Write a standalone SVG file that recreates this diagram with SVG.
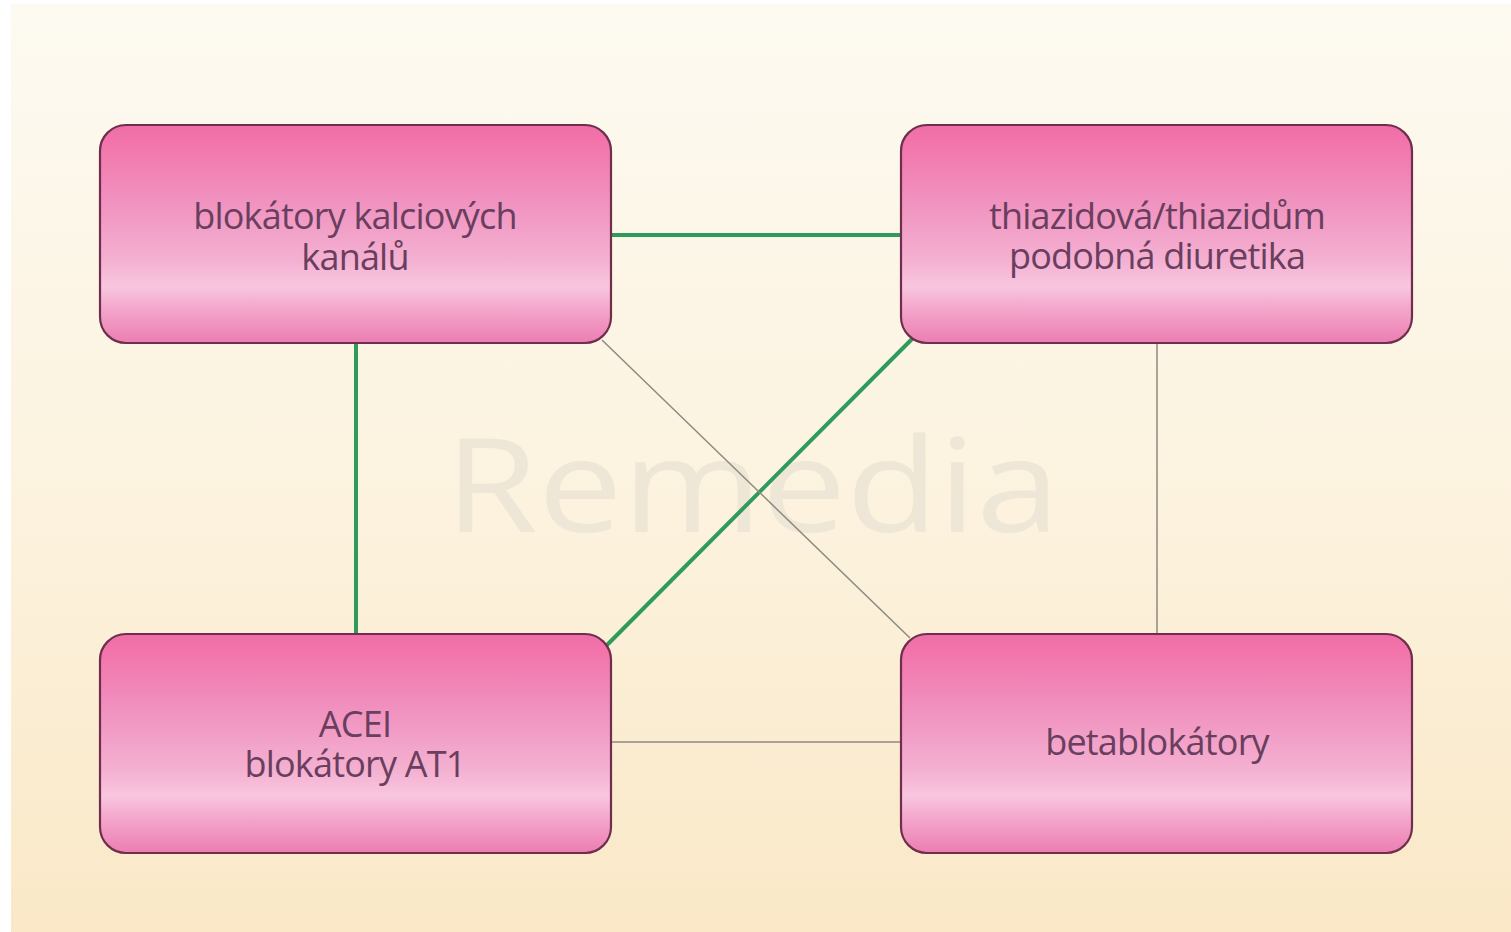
<svg xmlns="http://www.w3.org/2000/svg" width="1511" height="932" viewBox="0 0 1511 932">
  <defs>
    <linearGradient id="bg" x1="0" y1="0" x2="0" y2="1">
      <stop offset="0" stop-color="#FDFAF1"/>
      <stop offset="0.5" stop-color="#FCF3E0"/>
      <stop offset="1" stop-color="#FAE8C7"/>
    </linearGradient>
    <linearGradient id="nodeFill" x1="0" y1="0" x2="0" y2="1">
      <stop offset="0" stop-color="#EE6FA7"/>
      <stop offset="0.08" stop-color="#F274AB"/>
      <stop offset="0.35" stop-color="#F092BF"/>
      <stop offset="0.62" stop-color="#F4B0D1"/>
      <stop offset="0.74" stop-color="#F8C6DF"/>
      <stop offset="0.84" stop-color="#F3A7CB"/>
      <stop offset="1" stop-color="#EC7DB2"/>
    </linearGradient>
  </defs>
  <style>
    .node rect { fill: url(#nodeFill); stroke: #6E2E4C; stroke-width: 2.2; }
    .node text { font-family: "Open Sans", "Noto Sans", sans-serif; font-size: 36px; fill: #6A3E5E; text-anchor: middle; letter-spacing: -0.8px; }
    .green { stroke: #2E9A5C; stroke-width: 4; fill: none; }
    .gray { stroke: #8C8A80; stroke-width: 1.5; fill: none; }
    .wm { font-family: "Open Sans", "Noto Sans", sans-serif; font-size: 130px; fill: #EAE3D4; opacity: 0.75; }
  </style>
  <rect x="0" y="0" width="1511" height="932" fill="#FFFFFF"/>
  <rect x="11" y="4" width="1500" height="928" fill="url(#bg)"/>
  <text class="wm" x="445" y="532" textLength="615" lengthAdjust="spacingAndGlyphs">Remedia</text>
  <g id="connectors">
    <line class="green" x1="611" y1="235" x2="901" y2="235"/>
    <line class="green" x1="356" y1="343" x2="356" y2="633"/>
    <line class="green" x1="913" y1="338" x2="606" y2="646"/>
    <line class="gray" x1="602" y1="340" x2="910" y2="638"/>
    <line class="gray" x1="1157" y1="343" x2="1157" y2="633"/>
    <line class="gray" x1="611" y1="742" x2="901" y2="742"/>
  </g>
  <g id="node-bkk" class="node">
    <rect x="100" y="125" width="511" height="218" rx="26" ry="26"/>
    <text x="355" y="229">blokátory kalciových<tspan x="355" dy="41">kanálů</tspan></text>
  </g>
  <g id="node-diuretika" class="node">
    <rect x="901" y="125" width="511" height="218" rx="26" ry="26"/>
    <text x="1157" y="229">thiazidová/thiazidům<tspan x="1157" dy="40">podobná diuretika</tspan></text>
  </g>
  <g id="node-acei" class="node">
    <rect x="100" y="634" width="511" height="219" rx="26" ry="26"/>
    <text x="355" y="737">ACEI<tspan x="355" dy="40">blokátory AT1</tspan></text>
  </g>
  <g id="node-bb" class="node">
    <rect x="901" y="634" width="511" height="219" rx="26" ry="26"/>
    <text x="1157" y="755">betablokátory</text>
  </g>
</svg>
